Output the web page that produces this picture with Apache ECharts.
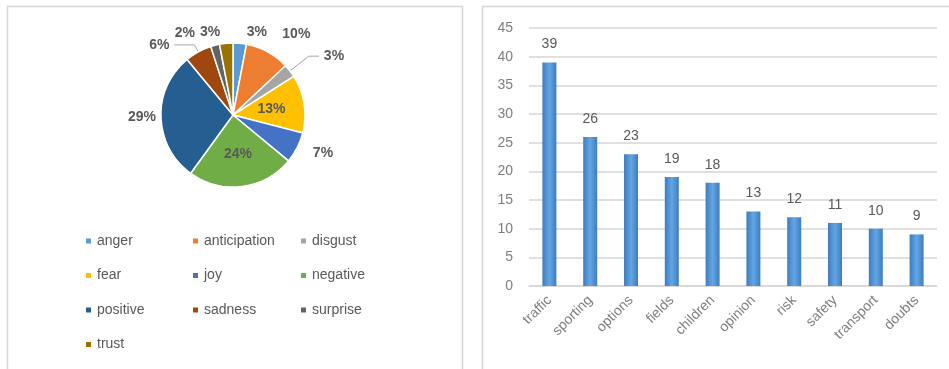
<!DOCTYPE html>
<html>
<head>
<meta charset="utf-8">
<title>Emotions and top terms</title>
<script src="https://cdn.jsdelivr.net/npm/echarts@6/dist/echarts.min.js"></script>
<style>
  html, body { margin: 0; padding: 0; background: #fff; }
  #chart { width: 949px; height: 369px; }
</style>
</head>
<body>
<div id="chart"></div>
<script>
// Emotion shares (percent), clockwise from 12 o'clock
var emotionNames = ['anger', 'anticipation', 'disgust', 'fear', 'joy', 'negative', 'positive', 'sadness', 'surprise', 'trust'];
var emotionShares = [3, 10, 3, 13, 7, 24, 29, 6, 2, 3];

// Most frequent terms and their counts
var termNames = ['traffic', 'sporting', 'options', 'fields', 'children', 'opinion', 'risk', 'safety', 'transport', 'doubts'];
var termCounts = [39, 26, 23, 19, 18, 13, 12, 11, 10, 9];

// Value axis ticks
var countTicks = [0, 5, 10, 15, 20, 25, 30, 35, 40, 45];

var palette = ['#5B9BD5', '#ED7D31', '#A5A5A5', '#FFC000', '#4472C4', '#70AD47', '#255E91', '#9E480E', '#636363', '#997300'];
var FONT = 'Liberation Sans, Arial, sans-serif';
var TEXT = '#595959';

// Per-slice label placement: leader lines only where the text sits away from its slice
var labelStyle = {
  anger:        { pos: 'outside', len: 11, len2: 1 },
  anticipation: { pos: 'outside', len: 20, len2: 0 },
  disgust:      { pos: 'outside', len: 24, len2: 10, line: true },
  fear:         { pos: 'inside' },
  joy:          { pos: 'outside', len: 12, len2: 0 },
  negative:     { pos: 'inside' },
  positive:     { pos: 'outside', len: 0, len2: 0 },
  sadness:      { pos: 'outside', len: 8, len2: 20, line: true },
  surprise:     { pos: 'outside', len: 13, len2: 12 },
  trust:        { pos: 'outside', len: 11, len2: 0 }
};

var pieData = emotionNames.map(function (name, i) {
  var s = labelStyle[name];
  return {
    name: name,
    value: emotionShares[i],
    itemStyle: { color: palette[i] },
    label: { position: s.pos },
    labelLine: { show: !!s.line, length: s.len || 0, length2: s.len2 || 0 }
  };
});

var legendCols = [[0, 3, 6, 9], [1, 4, 7], [2, 5, 8]];
var legendLefts = [79, 186, 294];
var legends = legendCols.map(function (idx, c) {
  return {
    orient: 'vertical',
    left: legendLefts[c],
    top: 229,
    icon: 'rect',
    itemWidth: 7,
    itemHeight: 7,
    itemGap: 20.5,
    data: idx.map(function (i) { return emotionNames[i]; }),
    textStyle: { color: TEXT, fontSize: 14, fontFamily: FONT, lineHeight: 14, padding: [0, 0, 0, 0] }
  };
});

var chart = echarts.init(document.getElementById('chart'), null, { renderer: 'canvas' });

chart.setOption({
  animation: false,
  backgroundColor: '#ffffff',
  textStyle: { fontFamily: FONT },
  graphic: [
    { type: 'rect', shape: { x: 7.5, y: 6.5, width: 455, height: 420 }, style: { fill: 'none', stroke: '#d6d6d6', lineWidth: 1.5 }, silent: true },
    { type: 'rect', shape: { x: 482.5, y: 6.5, width: 520, height: 420 }, style: { fill: 'none', stroke: '#d6d6d6', lineWidth: 1.5 }, silent: true }
  ],
  legend: legends,
  grid: { left: 529, right: 12, top: 28, bottom: 83 },
  xAxis: {
    type: 'category',
    data: termNames,
    axisLine: { show: true, lineStyle: { color: '#d6d6d6', width: 1.5 } },
    axisTick: { show: false },
    axisLabel: { rotate: 45, color: '#7f7f7f', fontSize: 14, fontFamily: FONT, margin: 12, interval: 0 }
  },
  yAxis: {
    type: 'value',
    min: countTicks[0],
    max: countTicks[countTicks.length - 1],
    interval: countTicks[1] - countTicks[0],
    axisLine: { show: false },
    axisTick: { show: false },
    axisLabel: { color: '#7f7f7f', fontSize: 14, fontFamily: FONT, margin: 16 },
    splitLine: { lineStyle: { color: '#d6d6d6', width: 1.5 } }
  },
  series: [
    {
      type: 'pie',
      center: [233, 115],
      radius: [0, 72],
      startAngle: 90,
      clockwise: true,
      avoidLabelOverlap: false,
      data: pieData,
      itemStyle: { borderColor: '#ffffff', borderWidth: 1.5 },
      label: {
        formatter: '{d}%',
        color: TEXT,
        fontSize: 14,
        fontWeight: 'bold',
        fontFamily: FONT
      },
      labelLine: { lineStyle: { color: '#a6a6a6', width: 1 }, smooth: false }
    },
    {
      type: 'bar',
      data: termCounts,
      barWidth: 14,
      itemStyle: {
        color: new echarts.graphic.LinearGradient(0, 0, 1, 0, [
          { offset: 0, color: '#3f7cbf' },
          { offset: 0.5, color: '#62a6e4' },
          { offset: 1, color: '#3f7cbf' }
        ])
      },
      label: {
        show: true,
        position: 'top',
        distance: 11,
        color: TEXT,
        fontSize: 14,
        fontFamily: FONT
      }
    }
  ]
});
</script>
</body>
</html>
